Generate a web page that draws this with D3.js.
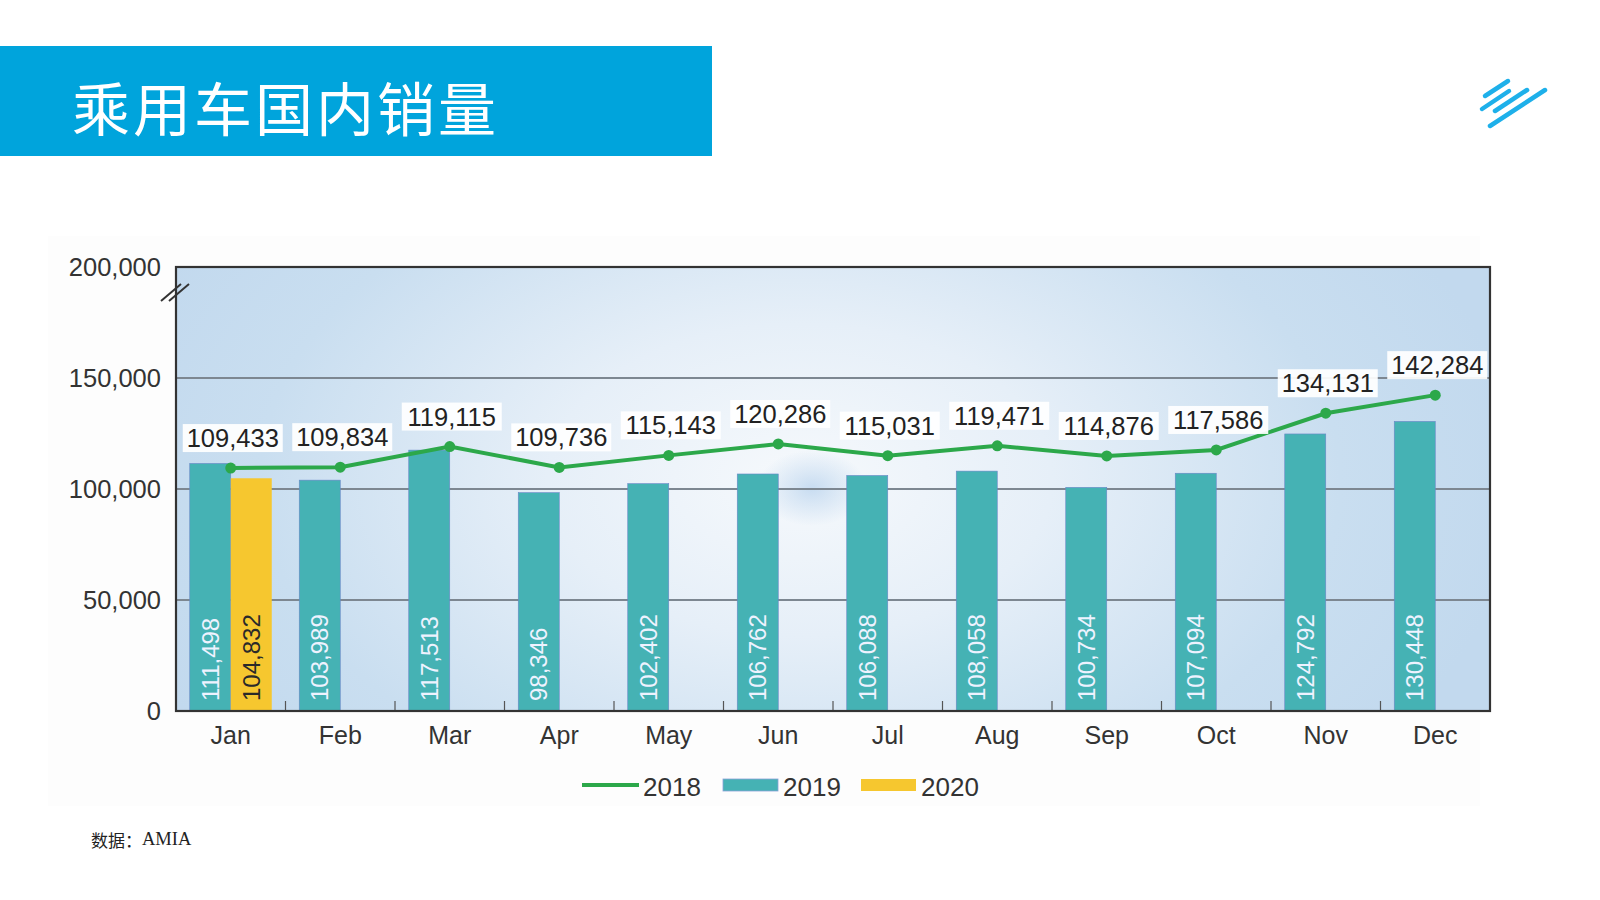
<!DOCTYPE html>
<html><head><meta charset="utf-8">
<script src="https://cdn.jsdelivr.net/npm/d3@7"></script>
<style>
html,body{margin:0;padding:0;background:#fff;}
svg{display:block;}
text{font-family:"Liberation Sans",Arial,sans-serif;}
</style></head>
<body>
<svg id="c" width="1600" height="900"></svg>
<script>
const months = ["Jan","Feb","Mar","Apr","May","Jun","Jul","Aug","Sep","Oct","Nov","Dec"];
const sales2018 = [109433,109834,119115,109736,115143,120286,115031,119471,114876,117586,134131,142284];
const sales2019 = [111498,103989,117513,98346,102402,106762,106088,108058,100734,107094,124792,130448];
const sales2020 = [104832];
const yTicks = [0,50000,100000,150000,200000];
const seriesNames = ["2018","2019","2020"];
const title = "乘用车国内销量";
const source = "数据：";
const sourceOrg = "AMIA";

const colors = {l2018:"#2ca84a", b2019:"#45b2b4", b2020:"#f6c72f", blue:"#00a4dc"};
const fmt = d3.format(",");
const svg = d3.select("#c");
const defs = svg.append("defs");

// Title banner
svg.append("rect").attr("x",0).attr("y",46).attr("width",712).attr("height",110).attr("fill",colors.blue);
svg.append("text").attr("x",72).attr("y",106).attr("dominant-baseline","central")
  .attr("fill","#fff").style("font-family",'"Noto Sans CJK SC"').style("font-size","58px")
  .style("letter-spacing","3px").text(title);

// Logo
const logo = [[1485,96,1508,81],[1482,109,1509,91],[1495,111,1527,90],[1490,126,1545,90]];
svg.append("g").selectAll("line").data(logo).join("line")
  .attr("x1",d=>d[0]).attr("y1",d=>d[1]).attr("x2",d=>d[2]).attr("y2",d=>d[3])
  .attr("stroke","#1eb0ea").attr("stroke-width",4.5).attr("stroke-linecap","round");

// Chart panel
svg.append("rect").attr("x",48).attr("y",236).attr("width",1432).attr("height",570).attr("fill","#fdfdfd");

const L=176,R=1490,T=267,B=711;
const x = d3.scaleBand().domain(months).range([L,R]).padding(0);
const y = d3.scaleLinear().domain([0,200000]).range([B,T]);
const bw = 41;

// plot background
const rg = defs.append("radialGradient").attr("id","bg").attr("gradientUnits","userSpaceOnUse")
  .attr("cx",800).attr("cy",480).attr("r",720).attr("gradientTransform","translate(800,480) scale(1,0.62) translate(-800,-480)");
rg.append("stop").attr("offset","0").attr("stop-color","#f6f9fc");
rg.append("stop").attr("offset","0.35").attr("stop-color","#e6eff8");
rg.append("stop").attr("offset","0.75").attr("stop-color","#c9def0");
rg.append("stop").attr("offset","1").attr("stop-color","#c2d9ee");
svg.append("rect").attr("x",L).attr("y",T).attr("width",R-L).attr("height",B-T).attr("fill","url(#bg)");
const blob = defs.append("radialGradient").attr("id","blob");
blob.append("stop").attr("offset","0").attr("stop-color","#bcd5ee").attr("stop-opacity",0.8);
blob.append("stop").attr("offset","1").attr("stop-color","#bcd5ee").attr("stop-opacity",0);
svg.append("ellipse").attr("cx",812).attr("cy",488).attr("rx",55).attr("ry",38).attr("fill","url(#blob)");

// grid
svg.append("g").selectAll("line").data(yTicks.filter(v=>v>0&&v<200000)).join("line")
  .attr("x1",L).attr("x2",R).attr("y1",d=>y(d)).attr("y2",d=>y(d))
  .attr("stroke","#7d8791").attr("stroke-width",2);

// y axis labels
const yAxis = d3.axisLeft(y).tickValues(yTicks).tickSize(0).tickPadding(15).tickFormat(fmt);
const gy = svg.append("g").attr("transform",`translate(${L},0)`).call(yAxis);
gy.select(".domain").remove();
gy.selectAll("text").style("font-size","25.5px").attr("fill","#333").style("font-family",'"Liberation Sans",Arial,sans-serif');

// bars 2019
svg.append("g").selectAll("rect").data(sales2019).join("rect")
  .attr("x",(d,i)=>x(months[i])+x.bandwidth()/2-bw).attr("width",bw)
  .attr("y",d=>y(d)).attr("height",d=>B-y(d))
  .attr("fill",colors.b2019).attr("stroke","#6a86c8").attr("stroke-width",0.6);
// bars 2020
svg.append("g").selectAll("rect").data(sales2020).join("rect")
  .attr("x",(d,i)=>x(months[i])+x.bandwidth()/2).attr("width",bw)
  .attr("y",d=>y(d)).attr("height",d=>B-y(d))
  .attr("fill",colors.b2020);

// bar labels (rotated)
const barLab = (data, off, col) => svg.append("g").selectAll("text").data(data).join("text")
  .attr("transform",(d,i)=>`translate(${x(months[i])+x.bandwidth()/2+off},${B-10}) rotate(-90)`)
  .attr("dominant-baseline","central").attr("text-anchor","start")
  .attr("fill",col).style("font-size","24px").text(d=>fmt(d));
barLab(sales2019,-bw/2,"#eef2ff");
barLab(sales2020,bw/2,"#2a2a2a");

// bottom ticks at band boundaries
svg.append("g").selectAll("line").data(months.slice(1)).join("line")
  .attr("x1",d=>x(d)).attr("x2",d=>x(d)).attr("y1",B).attr("y2",B-10)
  .attr("stroke","#555").attr("stroke-width",1.2);

// frame
svg.append("rect").attr("x",L).attr("y",T).attr("width",R-L).attr("height",B-T)
  .attr("fill","none").attr("stroke","#333").attr("stroke-width",2.2);
// axis break
svg.append("g").selectAll("line").data([-4,4]).join("line")
  .attr("x1",d=>L-11+d).attr("y1",T+34).attr("x2",d=>L+9+d).attr("y2",T+17)
  .attr("stroke","#333").attr("stroke-width",2);

// x axis labels
const xAxis = d3.axisBottom(x).tickSize(0).tickPadding(15);
const gx = svg.append("g").attr("transform",`translate(0,${B})`).call(xAxis);
gx.select(".domain").remove();
gx.selectAll("text").style("font-size","25px").attr("fill","#333").style("font-family",'"Liberation Sans",Arial,sans-serif');

// line 2018
const line = d3.line().x((d,i)=>x(months[i])+x.bandwidth()/2).y(d=>y(d));
svg.append("path").datum(sales2018).attr("d",line).attr("fill","none")
  .attr("stroke",colors.l2018).attr("stroke-width",4);
svg.append("g").selectAll("circle").data(sales2018).join("circle")
  .attr("cx",(d,i)=>x(months[i])+x.bandwidth()/2).attr("cy",d=>y(d)).attr("r",5.5).attr("fill",colors.l2018);

// line labels
const lg = svg.append("g").selectAll("g").data(sales2018).join("g")
  .attr("transform",(d,i)=>`translate(${x(months[i])+x.bandwidth()/2+2},${y(d)-30})`);
lg.append("rect").attr("x",-50).attr("y",-14).attr("width",100).attr("height",28).attr("fill","#fff").attr("opacity",0.92);
lg.append("text").attr("text-anchor","middle").attr("dominant-baseline","central")
  .attr("fill","#222").style("font-size","25.5px").text(d=>fmt(d));

// legend
const leg = svg.append("g").attr("transform","translate(582,785)");
const legItems = leg.selectAll("g").data(seriesNames).join("g")
  .attr("transform",(d,i)=>`translate(${[0,141,279][i]},0)`);
legItems.each(function(d,i){
  const g = d3.select(this);
  if(i===0){
    g.append("line").attr("x1",0).attr("x2",57).attr("y1",0).attr("y2",0).attr("stroke",colors.l2018).attr("stroke-width",4);
  } else {
    g.append("rect").attr("x",0).attr("y",-6).attr("width",55).attr("height",12)
      .attr("fill",i===1?colors.b2019:colors.b2020).attr("stroke",i===1?"#8aa0d8":"none").attr("stroke-width",0.8);
  }
  g.append("text").attr("x",i===0?61:60).attr("y",2).attr("dominant-baseline","central")
    .attr("fill","#333").style("font-size","26px").text(d);
});

// source
const src = svg.append("text").attr("x",91).attr("y",839).attr("dominant-baseline","central").attr("fill","#222");
src.append("tspan").style("font-family",'"Noto Sans CJK SC"').style("font-size","17px").text(source);
src.append("tspan").style("font-family",'"Liberation Serif",serif').style("font-size","18.5px").text(sourceOrg);
</script>
</body></html>
